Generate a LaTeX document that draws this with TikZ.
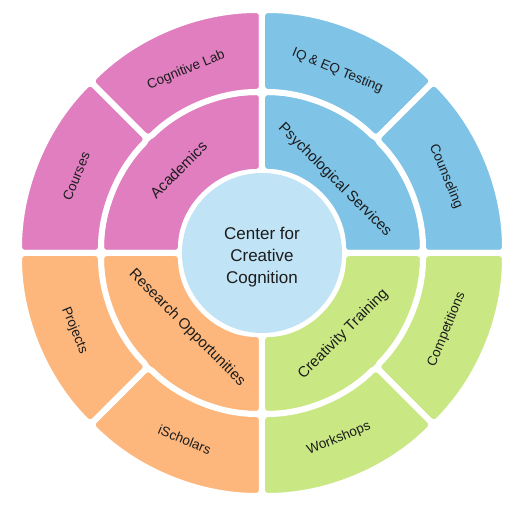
\documentclass[tikz,border=0pt]{standalone}
\usepackage{fontspec}
\setmainfont{Liberation Sans}
\definecolor{ink}{HTML}{1C1C1C}
\definecolor{acad}{HTML}{E07EC0}
\definecolor{psych}{HTML}{7FC3E6}
\definecolor{creat}{HTML}{C9E883}
\definecolor{resea}{HTML}{FDB77C}
\definecolor{hubc}{HTML}{C0E3F5}
\newcommand{\HubF}{\fontsize{17}{22}\selectfont}
\newcommand{\InnerF}{\fontsize{15}{18}\selectfont}
\newcommand{\OuterF}{\fontsize{13.5}{16}\selectfont}
% annular piece: start angle, end angle, inner r, outer r, colour
\newcommand{\ringseg}[5]{%
  \fill[#5, draw=white, line width=6pt, line join=round, rounded corners=6pt]
    (#1:#3pt) arc[start angle=#1, end angle=#2, radius=#3pt]
    -- (#2:#4pt) arc[start angle=#2, end angle=#1, radius=#4pt] -- cycle;
}
\tikzset{
  innerlbl/.style={font=\InnerF, text=ink, inner sep=1pt},
  outerlbl/.style={font=\OuterF, text=ink, inner sep=1pt}
}

\begin{document}
\begin{tikzpicture}
\useasboundingbox (-262pt,-257pt) rectangle (261pt,253pt);
% inner ring
\ringseg{90}{180}{81}{161}{acad}
\ringseg{0}{90}{81}{161}{psych}
\ringseg{-90}{0}{81}{161}{creat}
\ringseg{180}{270}{81}{161}{resea}
% outer ring
\ringseg{135}{180}{161}{243}{acad}
\ringseg{90}{135}{161}{243}{acad}
\ringseg{45}{90}{161}{243}{psych}
\ringseg{0}{45}{161}{243}{psych}
\ringseg{-45}{0}{161}{243}{creat}
\ringseg{-90}{-45}{161}{243}{creat}
\ringseg{225}{270}{161}{243}{resea}
\ringseg{180}{225}{161}{243}{resea}
% hub
\fill[hubc] (0,0) circle[radius=80pt];
\node[align=center, font=\HubF, text=ink] (hub) at (0,-4pt) {Center for\\Creative\\Cognition};
% inner labels
\node[innerlbl, rotate=45] (academics) at (135:118pt) {Academics};
\node[innerlbl, rotate=-45] (psychserv) at (45:103pt) {Psychological Services};
\node[innerlbl, rotate=45] (creattrain) at (-45:115pt) {Creativity Training};
\node[innerlbl, rotate=-45] (research) at (-135:106pt) {Research Opportunities};
% outer labels
\node[outerlbl, rotate=67.5] (courses) at (157.5:201pt) {Courses};
\node[outerlbl, rotate=22.5] (coglab) at (112.5:198pt) {Cognitive Lab};
\node[outerlbl, rotate=-22.5] (iqeq) at (67.5:197pt) {IQ \& EQ Testing};
\node[outerlbl, rotate=-67.5] (counsel) at (22.5:199pt) {Counseling};
\node[outerlbl, rotate=67.5] (compet) at (-22.5:200pt) {Competitions};
\node[outerlbl, rotate=22.5] (workshops) at (-67.5:201pt) {Workshops};
\node[outerlbl, rotate=-22.5] (ischolars) at (-112.5:202pt) {iScholars};
\node[outerlbl, rotate=-67.5] (projects) at (-157.5:203pt) {Projects};
\end{tikzpicture}
\end{document}
